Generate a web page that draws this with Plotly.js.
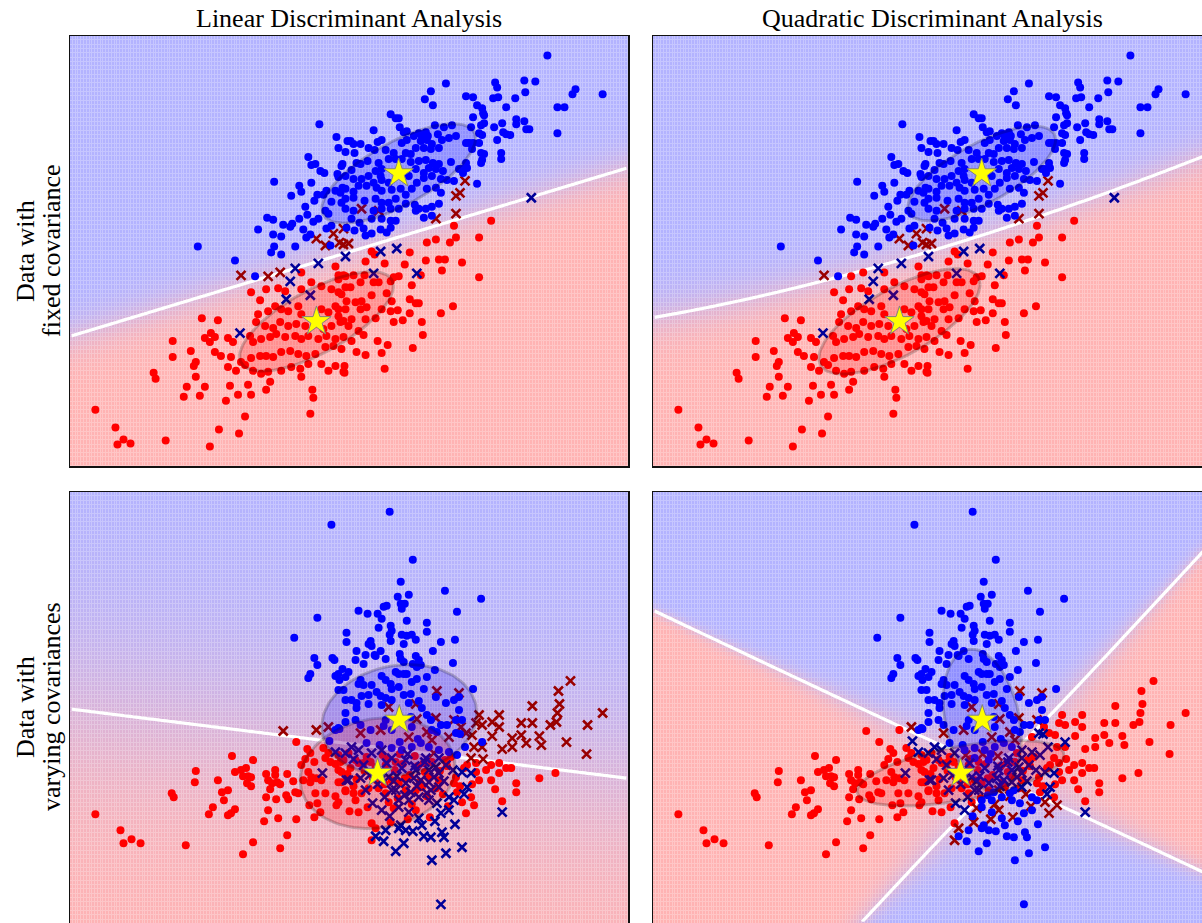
<!DOCTYPE html>
<html>
<head>
<meta charset="utf-8">
<script src="https://cdn.plot.ly/plotly-3.0.1.min.js"></script>
<style>
  html, body { margin: 0; padding: 0; overflow: hidden; background: #ffffff; }
  #chart { width: 1211px; height: 926px; }
</style>
</head>
<body>
<div id="chart"></div>
<script>
// ---- Data: two Gaussian classes per dataset (class 0 = red, class 1 = blue) ----
const fixedRed = [
[0.02,0.79],[0.11,0.72],[0.19,0.84],[0.29,0.73],[1.50,1.37],[1.45,1.25],[1.41,1.22],[1.41,1.04],[1.21,0.99],[0.47,1.09],
[0.64,1.07],[0.29,0.89],[0.34,0.74],[-0.73,0.42],[0.25,0.75],
[1.76,0.97],[1.39,0.92],[1.41,0.80],[1.35,0.75],[1.64,0.80],[1.21,0.78],[1.12,0.75],
[-0.46,0.41],[-0.34,0.45],[-0.13,0.45],[0.21,0.51],[-0.63,0.25],[-0.54,0.17],[-0.48,0.28],[-0.36,0.29],[-0.29,0.26],[-0.13,0.28],
[-0.03,0.35],[0.07,0.31],[0.17,0.28],[0.24,0.38],[0.31,0.41],[-1.12,-0.01],[-0.96,-0.03],[-0.56,0.03],[-0.46,0.06],[-0.39,0.11],
[-0.33,0.08],[-0.26,0.06],[-0.16,0.11],[-0.13,0.03],[0.07,0.08],[0.14,0.05],[0.21,0.11],[-0.58,-0.05],[-0.49,-0.09],[-0.41,-0.11],
[-0.34,-0.05],[-0.26,-0.09],[-0.18,-0.07],[-0.09,-0.09],[0.01,-0.07],[0.09,-0.12],[0.17,-0.09],[0.26,-0.05],[0.34,-0.09],[-1.03,-0.16],
[-0.99,-0.20],[-1.09,-0.21],[-1.04,-0.25],[-0.86,-0.21],[-0.81,-0.25],[-0.64,-0.19],[-0.61,-0.25],[-0.53,-0.22],[-0.44,-0.20],[-0.38,-0.17],
[-0.29,-0.20],[-0.19,-0.19],[-0.13,-0.22],[-0.06,-0.19],[0.04,-0.22],[0.12,-0.19],[0.21,-0.22],[0.29,-0.20],[-1.41,-0.24],[-1.23,-0.34],
[-1.41,-0.40],[-0.99,-0.35],[-0.93,-0.39],[-0.83,-0.40],[-0.73,-0.45],[-0.63,-0.41],[-0.54,-0.39],[-0.48,-0.39],[-0.41,-0.40],[-0.33,-0.35],
[-0.24,-0.34],[-0.16,-0.37],[-0.08,-0.39],[0.01,-0.37],[0.11,-0.30],[0.19,-0.29],[0.27,-0.32],[-1.20,-0.49],[-1.18,-0.45],[-0.86,-0.50],
[-0.78,-0.54],[-0.69,-0.48],[-0.61,-0.54],[-0.53,-0.57],[-0.46,-0.55],[-0.33,-0.54],[-0.23,-0.50],[-0.14,-0.52],[-0.06,-0.47],[0.07,-0.47],
[0.14,-0.54],[0.21,-0.49],[0.29,-0.55],[-1.60,-0.56],[-1.58,-0.62],[-1.18,-0.60],[-0.44,-0.65],[-0.13,-0.60],[-1.27,-0.70],[-1.09,-0.70],
[-0.84,-0.69],[-0.66,-0.68],[-0.48,-0.73],[-1.30,-0.80],[-1.14,-0.79],[-0.88,-0.84],[-0.76,-0.78],[-0.63,-0.78],[-0.02,-0.73],[-0.01,-0.81],
[-2.18,-0.93],[-0.69,-1.00],[-0.04,-0.97],[-1.98,-1.11],[-0.95,-1.13],[-0.75,-1.17],[-1.90,-1.23],[-1.96,-1.28],[-1.83,-1.27],[-1.48,-1.24],
[-1.04,-1.30],
[0.57,0.66],[0.60,0.63],[0.95,0.65],[1.11,0.57],[1.24,0.58],[1.30,0.58],[1.47,0.55],[0.51,0.56],[0.70,0.54],[0.90,0.53],
[1.27,0.47],[1.64,0.40],[0.24,0.42],[0.29,0.42],[0.39,0.42],[0.50,0.42],[0.59,0.35],[0.64,0.35],[0.76,0.36],[0.79,0.40],
[0.84,0.41],[1.06,0.42],[0.97,0.32],[0.46,0.35],[0.31,0.30],[0.36,0.30],[0.72,0.24],[0.57,0.22],[0.24,0.25],[0.27,0.23],
[0.32,0.16],[0.41,0.15],[0.47,0.16],[0.77,0.16],[0.95,0.18],[1.01,0.14],[1.04,0.14],[1.38,0.11],[0.24,0.08],[0.31,0.08],
[0.46,0.08],[0.52,0.10],[0.67,0.08],[0.76,0.06],[0.83,0.07],[0.95,0.04],[1.26,0.04],[0.24,0.01],[0.29,-0.04],[0.37,-0.02],
[0.51,-0.02],[0.61,-0.01],[0.79,-0.05],[0.88,-0.03],[1.07,-0.05],[0.44,-0.14],[0.49,-0.18],[1.08,-0.18],[0.37,-0.24],[0.63,-0.24],
[0.73,-0.28],[0.98,-0.31],[0.42,-0.35],[0.51,-0.38],[0.67,-0.36],[0.30,-0.49],[0.30,-0.56],[0.70,-0.52]
];

const fixedBlue = [
[0.05,1.94],[0.22,1.81],[0.24,1.70],[0.33,1.77],[-0.06,1.61],[-0.03,1.53],[0.01,1.54],[0.06,1.47],[0.10,1.45],[0.23,1.44],
[0.24,1.41],[0.27,1.52],[-0.40,1.36],[-0.15,1.32],[-0.13,1.26],[-0.03,1.35],[-0.23,1.22],[0.03,1.23],[0.09,1.23],[0.12,1.27],
[0.00,1.17],[0.17,1.16],[0.21,1.27],[0.26,1.25],[0.28,1.30],[-0.09,1.11],[0.27,1.15],[0.31,1.09],[-0.07,1.03],[0.11,1.07],
[0.14,1.04],[-0.47,1.00],[-0.41,0.98],[-0.15,0.99],[-0.01,0.96],[0.04,0.99],[-0.31,0.93],[-0.24,0.91],[-0.22,0.94],[-0.56,0.88],
[-0.11,0.88],[0.12,0.89],[0.17,0.92],[-0.41,0.83],[-0.33,0.81],[-0.08,0.80],[-0.04,0.83],[-1.16,0.71],[-0.40,0.71],[-0.19,0.71],
[0.16,0.72],[-0.79,0.57],[-0.43,0.65],[-0.33,0.63],
[2.32,2.63],[1.31,2.35],[1.80,2.36],[1.82,2.31],[2.09,2.38],[2.20,2.37],[1.16,2.27],[1.10,2.19],[1.18,2.13],[1.51,2.22],
[1.58,2.21],[1.78,2.20],[1.83,2.21],[2.00,2.20],[2.10,2.26],[2.60,2.29],[2.57,2.24],[2.87,2.24],[1.62,2.13],[1.67,2.10],
[1.68,2.05],[1.69,2.03],[1.91,2.11],[2.42,2.11],[2.49,2.11],[0.76,2.04],[0.81,2.00],[0.84,2.00],[1.58,2.01],[1.69,1.95],
[1.66,1.93],[1.79,1.91],[1.87,1.95],[2.01,1.99],[2.01,1.94],[2.09,1.97],[2.11,1.89],[2.14,1.89],[0.59,1.88],[0.85,1.91],
[0.89,1.86],[0.92,1.87],[1.04,1.85],[1.07,1.82],[1.11,1.86],[1.13,1.82],[1.20,1.93],[1.23,1.84],[1.29,1.91],[1.37,1.93],
[1.56,1.91],[1.64,1.85],[1.67,1.83],[1.88,1.86],[1.91,1.84],[1.95,1.83],[2.42,1.85],[1.82,1.78],[0.36,1.77],[0.39,1.74],
[0.46,1.74],[0.63,1.76],[0.67,1.78],[0.87,1.75],[0.92,1.78],[0.99,1.82],[1.06,1.77],[1.12,1.78],[1.17,1.74],[1.27,1.78],
[1.34,1.80],[1.41,1.82],[1.51,1.75],[1.54,1.75],[1.58,1.75],[1.64,1.75],[0.31,1.66],[0.40,1.65],[0.54,1.70],[0.60,1.68],
[0.71,1.68],[0.79,1.65],[0.91,1.65],[0.96,1.64],[1.01,1.70],[1.09,1.70],[1.16,1.69],[1.24,1.70],[1.57,1.69],[1.66,1.65],
[1.69,1.64],[1.86,1.65],[0.28,1.54],[0.42,1.55],[0.46,1.54],[0.53,1.57],[0.64,1.55],[0.74,1.59],[0.81,1.59],[0.87,1.59],
[0.96,1.56],[1.04,1.57],[1.11,1.58],[1.18,1.55],[1.24,1.54],[1.36,1.56],[1.51,1.55],[1.52,1.50],[1.47,1.49],[1.67,1.58],
[1.66,1.55],[1.86,1.59],[0.37,1.48],[0.61,1.47],[0.67,1.49],[1.01,1.49],[1.09,1.45],[1.14,1.50],[1.21,1.49],[1.28,1.47],
[1.44,1.49],[1.48,1.45],[0.31,1.42],[0.39,1.39],[0.47,1.39],[0.54,1.42],[0.59,1.35],[0.66,1.42],[0.67,1.38],[0.74,1.35],
[0.94,1.42],[1.02,1.35],[1.09,1.40],[1.17,1.42],[1.26,1.39],[1.32,1.38],[1.39,1.37],[1.62,1.34],[0.31,1.29],[0.39,1.26],
[0.44,1.32],[0.52,1.32],[0.62,1.30],[0.67,1.27],[0.77,1.28],[0.86,1.29],[0.91,1.23],[0.97,1.29],[1.12,1.29],[1.21,1.30],
[1.26,1.25],[0.31,1.19],[0.39,1.20],[0.50,1.17],[0.61,1.19],[0.67,1.15],[0.74,1.15],[0.81,1.19],[0.91,1.14],[1.00,1.13],
[1.04,1.09],[1.11,1.09],[1.17,1.11],[1.24,1.14],[0.39,1.07],[0.59,1.07],[0.67,1.09],[0.76,1.09],[0.84,1.09],[1.01,1.07],
[0.37,0.99],[0.45,0.95],[0.57,0.99],[0.67,0.99],[0.76,0.97],[0.81,0.97],[1.09,1.00],[1.17,1.02],[0.32,0.90],[0.40,0.87],
[0.49,0.89],[0.57,0.84],[0.66,0.88],[0.72,0.85],[0.76,0.90],[0.51,0.82],
[0.31,0.61],[0.66,0.66],[0.82,0.69],[0.59,0.44],[1.02,0.44],[0.04,0.54],[-0.19,0.49],[-0.24,0.36],[-0.28,0.18],[-0.04,0.22],
[-0.59,0.41],[-0.74,-0.16],[2.16,1.20]
];

const varyRed = [
[15.6,6.2],[18.3,6.4],[18.1,5.5],[18.0,4.6],[17.4,4.3],[14.5,4.5],[15.6,4.5],[12.3,5.3],[11.6,4.6],[12.3,4.1],
[10.0,4.5],[10.6,4.3],[10.3,5.3],[9.6,3.3],[11.6,3.2],[13.6,3.0],[14.5,3.3],[16.3,3.2],[16.5,2.3],[19.0,2.6],
[21.1,4.3],[22.6,5.5],[21.0,1.4],[12.6,1.9],[9.0,3.5],[4.1,4.9],[6.0,5.0],[7.8,4.8],[8.5,4.1],[1.3,6.1],
[0.5,3.8],[-1.5,3.5],[3.3,3.1],[5.1,3.6],[7.3,3.1],[10.6,2.1],[9.8,2.1],[13.6,2.1],[15.0,2.5],[5.6,2.8],
[6.1,7.7],[8.3,7.5],[4.0,6.4],[18.2,7.7],[19.4,8.7],[-5.9,3.8],[-4.7,4.1],
[-9.2,3.7],[-7.9,2.6],[-6.8,1.9],[-6.5,1.5],[-5.2,2.0],[-4.7,1.5],[-14.3,1.2],[-12.2,0.8],[-7.4,0.3],[-7.0,0.9],
[-6.1,0.6],[-5.0,1.0],[-4.5,0.6],[-4.0,0.4],[-3.5,0.6],[-3.4,-0.4],[-17.9,-0.3],[-14.0,-0.4],[-13.4,-0.2],[-12.9,0.0],
[-13.2,-0.8],[-12.7,-0.8],[-12.4,-0.9],[-10.9,-0.6],[-10.0,-0.2],[-10.0,-0.7],[-8.8,-0.6],[-6.7,-0.4],[-6.4,-0.9],[-5.9,-1.0],
[-18.0,-1.4],[-15.7,-1.2],[-12.8,-1.5],[-12.4,-1.8],[-10.7,-1.2],[-10.3,-1.5],[-9.8,-1.4],[-9.5,-1.6],[-8.2,-1.3],[-7.2,-1.2],
[-6.5,-1.4],[-5.4,-1.2],[-3.4,-1.4],[-10.5,-2.1],[-20.3,-2.5],[-20.1,-2.9],[-15.3,-2.4],[-14.7,-2.2],[-15.1,-3.2],[-10.9,-2.9],
[-9.9,-3.1],[-8.9,-2.7],[-8.7,-3.1],[-8.0,-2.4],[-7.7,-2.5],[-6.0,-2.5],[-5.0,-2.5],[-4.0,-2.8],[-3.9,-3.7],[-3.0,-2.3],
[-16.2,-3.9],[-14.0,-4.1],[-14.4,-4.5],[-14.7,-4.7],[-16.6,-4.6],[-10.7,-4.2],[-6.6,-3.7],[-5.8,-3.5],[-5.5,-4.4],[-6.1,-4.9],
[-27.9,-4.6],[-9.7,-5.0],[-7.9,-5.1],[-11.1,-5.3],[-25.4,-6.2],[-8.8,-6.7],[-24.3,-7.1],[-25.1,-7.5],[-23.4,-7.5],[-18.9,-7.7],
[-12.2,-7.4],[-9.5,-8.0],[-13.2,-8.6],
[-3.7,1.3],[-3.2,0.8],[-3.7,-0.2],[-2.5,0.0],[-2.0,0.8],[-1.2,0.5],[-0.5,0.6],[0.0,0.1],[1.0,0.3],[-3.7,-1.4],
[-3.0,-2.2],[-2.2,-2.5],[-2.0,-3.2],[-1.4,-2.5],[-0.7,-2.0],[0.3,-2.0],[1.0,-2.5],[1.6,-1.2],[2.3,-1.5],[3.0,-2.2],
[4.0,-2.2],[4.6,-1.9],[5.3,-0.9],[6.3,-1.2],[7.5,1.1],[8.0,-0.9],[8.8,0.0],[9.5,1.0],[10.0,0.5],[11.0,-0.2],
[10.3,-1.2],[11.5,-1.2],[12.3,-0.5],[12.3,0.5],[13.0,0.0],[13.5,0.0],[14.0,-1.5],[14.0,-2.4],[12.6,-3.3],[9.0,-4.5],
[8.6,-3.4],[9.5,-2.9],[8.1,-2.4],[1.8,-4.0],[4.0,-4.2],[-0.4,-5.5],[0.0,-6.0],[-0.4,-7.2],[-1.7,-4.4],[-3.7,-3.4],
[-1.7,0.5],[-2.7,1.5],[16.3,-1.0],[17.9,-0.5],[10.0,-0.4],[11.5,0.3],[9.1,0.3],
[-2.8,-0.6],[-1.9,-1.1],[-1.1,-0.3],[-0.3,-0.9],[0.4,-0.4],[1.2,0.9],[1.9,-0.2],[2.7,0.4],[3.4,-0.7],[4.2,0.2],
[4.9,-0.4],[5.6,0.6],[6.4,-0.3],[7.1,0.2],[7.8,-1.5],[2.2,-3.0],[3.6,-3.6],[5.1,-2.8],[6.7,-2.6],[1.3,-3.4],
[0.7,1.3],[2.4,1.4],[3.9,1.2],[5.8,1.5],[-0.9,1.1],[-2.2,-1.8],[0.9,-1.6],[2.9,-1.0],[4.4,-1.4],[6.0,-2.0],
[8.4,-1.8],[9.6,-1.6],[10.7,0.9],[11.9,-2.1],[7.2,-3.8],[5.4,-4.9],[3.2,-5.1],[1.5,-5.4],[-0.8,-3.9],[-2.6,-4.3],
[9.8,-3.7],[6.9,0.8],[4.8,0.5],[2.0,0.6],[0.1,-1.2]
];

const varyBlue = [
[-4.4,24.3],[-5.8,15.0],[-8.1,13.0],[-6.1,11.0],[-4.3,11.0],[-4.1,10.8],[-5.8,10.3],[-2.9,13.5],[-2.9,12.6],[-3.3,9.9],
[-6.5,9.4],[-6.7,9.0],[-4.0,9.2],[-3.6,8.8],[-3.0,9.1],[-3.7,7.8],[-3.0,6.8],
[1.4,25.6],[3.7,20.8],[2.5,18.6],[6.9,17.7],[10.5,16.9],[2.2,17.1],[3.3,17.3],[2.5,16.4],[2.9,16.4],
[2.6,15.9],[-1.7,15.7],[-0.8,15.4],[0.2,15.4],[0.6,14.9],[0.8,16.1],[1.1,16.2],[8.1,15.6],[3.1,14.7],[0.3,14.0],
[1.5,14.2],[1.6,13.7],[1.4,13.3],[5.1,14.5],[5.1,13.6],[-0.5,12.7],[-0.4,12.2],[-0.7,12.4],[1.5,12.7],[2.6,13.3],
[3.1,13.2],[3.6,13.3],[4.0,12.8],[2.8,12.4],[6.5,12.6],[7.9,12.8],[-1.9,11.7],[-1.0,11.3],[-0.1,11.3],[0.5,11.7],
[-2.0,10.8],[-1.2,10.4],[0.0,11.2],[1.0,10.9],[2.4,11.4],[2.5,10.9],[2.8,10.6],[4.0,11.2],[4.3,10.8],[3.7,10.4],
[4.5,10.3],[4.1,10.1],[5.7,11.7],[7.7,10.5],[-2.7,9.6],[-3.7,9.4],[2.0,9.6],[2.3,9.4],[2.8,9.4],[3.1,9.4],
[0.6,9.2],[5.1,9.1],[5.9,9.8],[-1.5,8.8],[-1.7,8.4],[-1.2,8.3],[-0.4,8.3],[1.0,8.8],[1.5,8.4],[1.6,7.9],
[2.3,8.1],[3.6,8.6],[4.1,8.9],[4.8,7.9],[9.7,7.9],[-3.2,7.8],[-1.4,7.2],[-0.7,7.3],[0.1,7.6],[0.5,7.2],
[1.0,7.0],[1.6,6.8],[2.8,7.3],[3.5,7.4],[4.3,6.7],[6.0,7.1],[7.0,6.5],[7.8,6.8],[8.3,7.1],[-2.4,6.8],
[-1.9,6.5],[-0.7,6.4],
[-3.0,5.5],[-3.0,4.6],[-3.7,4.0],[-1.9,6.0],[-2.0,4.8],[-1.5,4.3],[-0.5,3.8],[0.6,6.3],[1.0,4.8],[0.8,4.2],
[1.6,3.8],[3.3,6.5],[3.5,5.1],[3.6,4.1],[4.6,6.0],[5.1,5.3],[5.5,4.8],[5.6,3.8],[6.1,3.6],[6.5,4.3],
[7.1,4.3],[8.0,4.8],[8.3,5.8],[8.6,4.8],[10.6,2.6],[8.0,3.5],[8.4,3.4],[8.9,2.1],[-4.0,3.8],[-3.6,3.9],
[-4.6,2.7],[-4.0,1.6],[-5.3,-0.5],[-2.9,-1.2],
[-3.0,1.5],[-2.4,2.1],[-1.7,1.8],[-0.9,2.5],[-0.4,1.5],[0.6,1.8],[1.6,2.0],[2.6,1.8],[3.6,2.1],[4.5,2.5],
[5.3,2.1],[6.3,1.8],[7.3,1.6],[8.1,1.3],[-2.7,-1.2],[-1.5,-1.0],[-1.0,-2.2],[0.5,-0.5],[1.3,-0.9],[2.0,-2.2],
[3.0,-1.5],[3.8,-1.0],[4.5,-1.2],[5.3,-1.4],[5.5,-2.2],[6.3,-1.9],[7.0,0.3],[2.3,-3.2],[3.3,-3.2],[4.3,-2.9],
[5.3,-3.2],[6.1,-3.5],[6.5,-4.5],[7.3,-4.2],[7.8,-3.2],[7.3,-2.9],[9.1,-1.9],[8.6,-0.4],[9.5,-0.5],[12.6,-4.4],
[0.6,-4.2],[2.3,-3.9],[4.3,-5.0],[4.6,-5.7],[2.5,-5.7],[2.3,-6.0],[1.0,-6.2],[0.0,-6.8],[0.8,-7.3],[3.0,-6.2],
[3.7,-6.3],[2.8,-7.5],[4.8,-6.8],[5.5,-6.9],[6.6,-6.4],[6.8,-6.9],[8.6,-7.9],[7.0,-8.5],[5.6,-9.2],[6.5,-13.6],
[1.6,1.0],[3.0,0.8],[5.0,1.0],[6.3,1.0],[2.6,0.0],[4.0,-0.2],[5.3,-0.2],[6.3,-0.5],[1.6,-2.2],[3.5,-2.4],
[-1.2,0.3],[0.2,-1.6],[1.1,0.5],[2.1,-0.8],[3.2,1.4],[4.1,-1.8],[4.9,0.6],[5.8,-0.9],[6.8,-1.3],[7.7,-0.2],
[-2.2,0.9],[-0.6,-0.7],[1.8,-1.3],[2.9,-2.7],[3.9,0.2],[5.1,-2.5],[6.0,0.1],[0.4,2.3],[2.4,2.6],[4.2,2.9],
[-0.3,-3.5],[1.4,-4.8],[3.3,-4.4],[5.9,-5.3],[7.9,-5.6],[2.0,-8.3],[0.9,-2.9],[8.8,-2.6]
];

const columnTitles = ['Linear Discriminant Analysis', 'Quadratic Discriminant Analysis'];
const rowLabels = [['Data with', 'fixed covariance'], ['Data with', 'varying covariances']];
const datasets = [[fixedRed, fixedBlue], [varyRed, varyBlue]];
const modelKinds = ['lda', 'qda'];

// ---- Figure geometry (pixels) ----
const W = 1211, H = 926;
const colPx = [[70, 628], [653, 1211]];
const rowPx = [[36, 466], [492, 924]];
const labelLinePx = [25, 51];
const FONT = 'Liberation Serif, Times New Roman, serif';

// ---- Discriminant analysis helpers ----
function classStats(pts, ddof) {
  const n = pts.length;
  let mx = 0, my = 0;
  for (const [x, y] of pts) { mx += x; my += y; }
  mx /= n; my /= n;
  let sxx = 0, sxy = 0, syy = 0;
  for (const [x, y] of pts) {
    const dx = x - mx, dy = y - my;
    sxx += dx * dx; sxy += dx * dy; syy += dy * dy;
  }
  const d = n - ddof;
  return { n, mean: [mx, my], cov: [[sxx / d, sxy / d], [sxy / d, syy / d]] };
}

function invert(c) {
  const det = c[0][0] * c[1][1] - c[0][1] * c[1][0];
  return { inv: [[c[1][1] / det, -c[0][1] / det], [-c[1][0] / det, c[0][0] / det]], logdet: Math.log(det) };
}

function fitModel(red, blue, kind) {
  const ddof = kind === 'lda' ? 0 : 1;
  const s0 = classStats(red, ddof), s1 = classStats(blue, ddof);
  const n = s0.n + s1.n;
  const priors = [s0.n / n, s1.n / n];
  let covs;
  if (kind === 'lda') {
    const pooled = [0, 1].map(i => [0, 1].map(j => priors[0] * s0.cov[i][j] + priors[1] * s1.cov[i][j]));
    covs = [pooled, pooled];
  } else {
    covs = [s0.cov, s1.cov];
  }
  const means = [s0.mean, s1.mean];
  const inv = covs.map(invert);
  const score = (k, x, y) => {
    const dx = x - means[k][0], dy = y - means[k][1], m = inv[k].inv;
    const q = dx * (m[0][0] * dx + m[0][1] * dy) + dy * (m[1][0] * dx + m[1][1] * dy);
    return -0.5 * (q + inv[k].logdet) + Math.log(priors[k]);
  };
  const proba = (x, y) => 1 / (1 + Math.exp(score(0, x, y) - score(1, x, y)));
  return { means, covs, proba };
}

function dataRange(vals) {
  const lo = Math.min(...vals), hi = Math.max(...vals), m = 0.05 * (hi - lo);
  return [lo - m, hi + m];
}

function ellipsePath(mean, cov) {
  const a = Math.sqrt(cov[0][0]);
  const b = cov[0][1] / a;
  const c = Math.sqrt(cov[1][1] - b * b);
  const xs = [], ys = [];
  for (let i = 0; i <= 120; i++) {
    const t = 2 * Math.PI * i / 120, u = Math.cos(t), v = Math.sin(t);
    xs.push(mean[0] + a * u);
    ys.push(mean[1] + b * u + c * v);
  }
  return { xs, ys };
}

const baseScale = [[0, 'rgb(255,179,179)'], [1, 'rgb(179,179,255)']];
const lightScale = [[0, 'rgb(255,198,198)'], [1, 'rgb(198,198,255)']];

const traces = [];
const layout = {
  width: W, height: H,
  margin: { l: 0, r: 0, t: 0, b: 0 },
  paper_bgcolor: '#ffffff', plot_bgcolor: '#ffffff',
  showlegend: false, hovermode: false,
  font: { family: FONT, color: '#000000' },
  annotations: []
};

datasets.forEach(([red, blue], r) => {
  const all = red.concat(blue);
  const xr = dataRange(all.map(p => p[0]));
  const yr = dataRange(all.map(p => p[1]));
  const nx = 200, ny = 100;
  const gx = [], gy = [];
  for (let i = 0; i < nx; i++) gx.push(xr[0] + (i + 0.5) * (xr[1] - xr[0]) / nx);
  for (let j = 0; j < ny; j++) gy.push(yr[0] + (j + 0.5) * (yr[1] - yr[0]) / ny);

  modelKinds.forEach((kind, c) => {
    const idx = r * 2 + c + 1;
    const xa = idx === 1 ? 'x' : 'x' + idx, ya = idx === 1 ? 'y' : 'y' + idx;
    const xKey = idx === 1 ? 'xaxis' : 'xaxis' + idx, yKey = idx === 1 ? 'yaxis' : 'yaxis' + idx;
    const axisCommon = {
      showgrid: false, zeroline: false, showticklabels: false, ticks: '',
      showline: true, mirror: true, linecolor: '#111111', linewidth: 1.5, fixedrange: true
    };
    layout[xKey] = Object.assign({}, axisCommon, {
      domain: [colPx[c][0] / W, colPx[c][1] / W], range: xr, anchor: ya
    });
    layout[yKey] = Object.assign({}, axisCommon, {
      domain: [1 - rowPx[r][1] / H, 1 - rowPx[r][0] / H], range: yr, anchor: xa
    });

    const model = fitModel(red, blue, kind);
    const z = gy.map(y => gx.map(x => model.proba(x, y)));

    // class probability background
    traces.push({ type: 'heatmap', x: gx, y: gy, z, zmin: 0, zmax: 1, colorscale: lightScale,
      showscale: false, hoverinfo: 'skip', xaxis: xa, yaxis: ya });
    traces.push({ type: 'heatmap', x: gx, y: gy, z, zmin: 0, zmax: 1, colorscale: baseScale,
      xgap: 1, ygap: 1, showscale: false, hoverinfo: 'skip', xaxis: xa, yaxis: ya });

    // decision boundary at p = 0.5
    traces.push({ type: 'contour', x: gx, y: gy, z, autocontour: false,
      contours: { start: 0.5, end: 0.5, size: 1, coloring: 'none', showlines: true },
      line: { color: '#ffffff', width: 3.2, smoothing: 0 },
      showscale: false, hoverinfo: 'skip', xaxis: xa, yaxis: ya });

    // points: dots for correct predictions, crosses for errors
    const groups = [
      { pts: red, cls: 0, ok: 'red', bad: '#990000' },
      { pts: blue, cls: 1, ok: 'blue', bad: '#000099' }
    ];
    groups.forEach(g => {
      const good = g.pts.filter(p => (model.proba(p[0], p[1]) > 0.5 ? 1 : 0) === g.cls);
      const wrong = g.pts.filter(p => (model.proba(p[0], p[1]) > 0.5 ? 1 : 0) !== g.cls);
      traces.push({ type: 'scatter', mode: 'markers', x: good.map(p => p[0]), y: good.map(p => p[1]),
        marker: { symbol: 'circle', size: 8, color: g.ok, line: { width: 0 } },
        hoverinfo: 'skip', cliponaxis: true, xaxis: xa, yaxis: ya });
      traces.push({ type: 'scatter', mode: 'markers', x: wrong.map(p => p[0]), y: wrong.map(p => p[1]),
        marker: { symbol: 'x-thin-open', size: 9, color: g.bad, line: { width: 2.6, color: g.bad } },
        hoverinfo: 'skip', cliponaxis: true, xaxis: xa, yaxis: ya });
    });

    // one-standard-deviation ellipses of the fitted Gaussians
    ['rgba(255,0,0,0.2)', 'rgba(0,0,255,0.2)'].forEach((fill, k) => {
      const e = ellipsePath(model.means[k], model.covs[k]);
      traces.push({ type: 'scatter', mode: 'lines', x: e.xs, y: e.ys, fill: 'toself', fillcolor: fill,
        line: { color: 'rgba(0,0,0,0.2)', width: 3 }, hoverinfo: 'skip', xaxis: xa, yaxis: ya });
    });

    // class means
    traces.push({ type: 'scatter', mode: 'markers',
      x: model.means.map(m => m[0]), y: model.means.map(m => m[1]),
      marker: { symbol: 'star', size: 22, color: 'yellow', line: { color: 'grey', width: 1 } },
      hoverinfo: 'skip', xaxis: xa, yaxis: ya });
  });
});

columnTitles.forEach((t, c) => {
  layout.annotations.push({ text: t, xref: 'paper', yref: 'paper',
    x: (colPx[c][0] + colPx[c][1]) / 2 / W, y: 1 - 18 / H, xanchor: 'center', yanchor: 'middle',
    showarrow: false, font: { family: FONT, size: 26, color: '#000000' } });
});
rowLabels.forEach((lines, r) => {
  lines.forEach((t, li) => {
    layout.annotations.push({ text: t, xref: 'paper', yref: 'paper', textangle: -90,
      x: labelLinePx[li] / W, y: 1 - (rowPx[r][0] + 430 / 2) / H, xanchor: 'center', yanchor: 'middle',
      showarrow: false, font: { family: FONT, size: 26, color: '#000000' } });
  });
});

Plotly.newPlot('chart', traces, layout, { staticPlot: true, displayModeBar: false });
</script>
</body>
</html>
